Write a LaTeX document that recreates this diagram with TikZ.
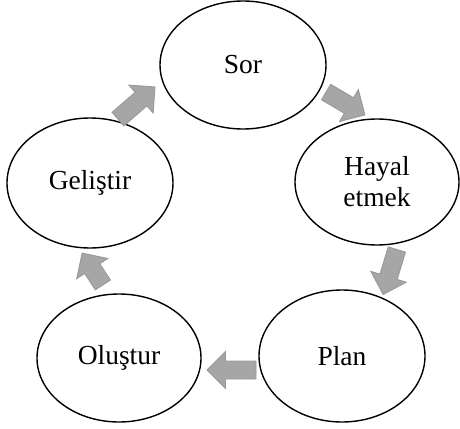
\documentclass[tikz,border=0pt]{standalone}
\usepackage{fontspec}
\setmainfont{Liberation Serif}
\usetikzlibrary{shapes.geometric}
\newcommand\blkarrow[3]{%
  \begin{scope}[shift={#1},rotate=#2,x=1pt,y=1pt]
    \path[blockarrow] (-#3/2,-9) -- (#3/2-18.5,-9) -- (#3/2-18.5,-18.5) -- (#3/2,0)
      -- (#3/2-18.5,18.5) -- (#3/2-18.5,9) -- (-#3/2,9) -- cycle;
  \end{scope}}
\begin{document}
\begin{tikzpicture}[x=1pt,y=-1pt,
  stage/.style={draw=black,line width=1.4pt,ellipse,inner sep=0pt,fill=white,
     font=\fontsize{27.5}{31}\selectfont,align=center},
  blockarrow/.style={draw=gray!80,fill=gray!70,line width=0.9pt,line join=miter}]
\useasboundingbox (0,0) rectangle (460,428);
\node[stage,minimum width=166pt,minimum height=128pt] (sor) at (243,65) {Sor};
\node[stage,minimum width=164pt,minimum height=126pt] (hayal) at (377,182) {Hayal\\etmek};
\node[stage,minimum width=166pt,minimum height=132pt] (plan) at (342,356) {Plan};
\node[stage,minimum width=164pt,minimum height=128pt] (olustur) at (119,358) {Oluştur};
\node[stage,minimum width=166pt,minimum height=130pt] (gelistir) at (90,183) {Geliştir};
\blkarrow{(136.5,103)}{41}{49}
\blkarrow{(345.5,103.5)}{-30.5}{45}
\blkarrow{(390,272)}{-107}{47}
\blkarrow{(231.5,370)}{180}{49}
\blkarrow{(92.5,269)}{123}{38}
\end{tikzpicture}
\end{document}
